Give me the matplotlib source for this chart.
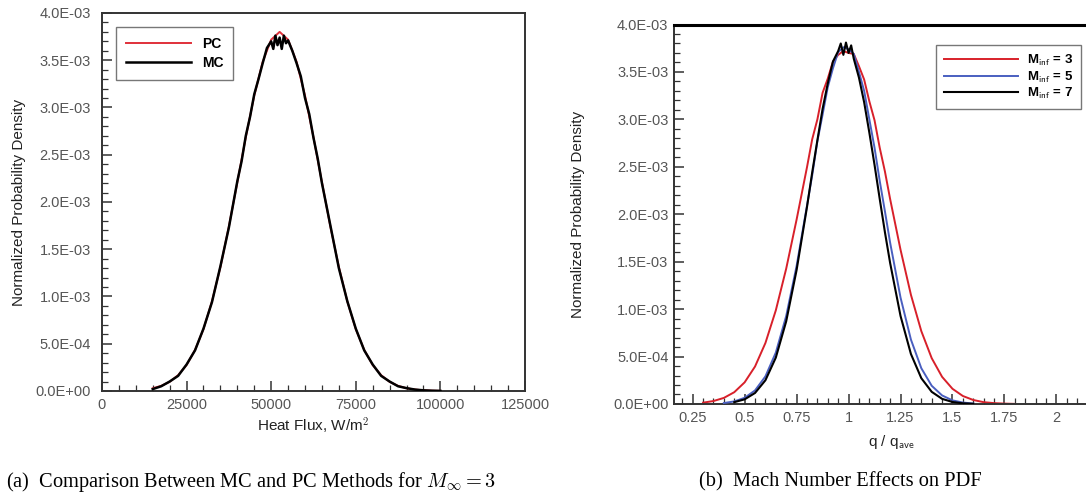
import matplotlib
matplotlib.use("Agg")
import matplotlib.pyplot as plt
from matplotlib.ticker import MultipleLocator, FuncFormatter

plt.rcParams["font.family"] = ["Liberation Sans", "DejaVu Sans"]
plt.rcParams["mathtext.fontset"] = "cm"

# values, density in units of 1e-3
SCALE = 1e-3

# (a) heat flux PDF, PC vs MC, M = 3
pc_x = [15000, 17500, 20000, 22500, 25000, 27500, 30000, 32500, 35000, 37500,
        40000, 42500, 45000, 47500, 50000, 52500, 55000, 57500, 60000, 62500,
        65000, 67500, 70000, 72500, 75000, 77500, 80000, 82500, 85000, 87500,
        90000, 92500, 95000, 97500, 100000]
pc_y = [0.029, 0.054, 0.097, 0.167, 0.275, 0.434, 0.655, 0.948, 1.312, 1.740,
        2.209, 2.685, 3.126, 3.484, 3.718, 3.800, 3.718, 3.484, 3.126, 2.685,
        2.209, 1.740, 1.312, 0.948, 0.655, 0.434, 0.275, 0.167, 0.097, 0.054,
        0.029, 0.015, 0.007, 0.003, 0.001]

mc_x = [15000, 17500, 20000, 22500, 25000, 27500, 30000, 32500, 35000, 37500,
        40000, 41250, 42500, 43750, 45000, 46250, 47500, 48750, 50000, 50625,
        51250, 51875, 52500, 53125, 53750, 54375, 55000, 56250, 57500, 58750,
        60000, 61250, 62500, 63750, 65000, 67500, 70000, 72500, 75000, 77500,
        80000, 82500, 85000, 87500, 90000, 92500, 95000, 97500, 100000]
mc_y = [0.020, 0.050, 0.100, 0.160, 0.280, 0.430, 0.660, 0.940, 1.320, 1.730,
        2.220, 2.430, 2.700, 2.900, 3.140, 3.300, 3.470, 3.630, 3.700, 3.620,
        3.760, 3.660, 3.740, 3.620, 3.760, 3.680, 3.710, 3.600, 3.470, 3.330,
        3.100, 2.930, 2.680, 2.460, 2.200, 1.750, 1.300, 0.950, 0.660, 0.430,
        0.280, 0.160, 0.100, 0.050, 0.030, 0.015, 0.007, 0.003, 0.001]

# (b) q / q_ave PDF for three Mach numbers
m3_x = [0.30, 0.35, 0.40, 0.45, 0.50, 0.55, 0.60, 0.65, 0.70, 0.75,
        0.800, 0.825, 0.850, 0.875, 0.900, 0.925, 0.950, 0.975, 1.000, 1.025,
        1.050, 1.075, 1.100, 1.125, 1.150, 1.175, 1.200,
        1.25, 1.30, 1.35, 1.40, 1.45, 1.50, 1.55, 1.60, 1.65, 1.70, 1.75, 1.80]
m3_y = [0.014, 0.031, 0.064, 0.124, 0.228, 0.395, 0.643, 0.987, 1.427, 1.944,
        2.496, 2.790, 3.000, 3.280, 3.430, 3.610, 3.680, 3.720, 3.700, 3.690,
        3.560, 3.420, 3.190, 2.990, 2.700, 2.450, 2.160,
        1.626, 1.151, 0.768, 0.483, 0.286, 0.160, 0.084, 0.042, 0.019, 0.009, 0.004, 0.001]

m5_x = [0.40, 0.45, 0.50, 0.55, 0.60, 0.65, 0.70, 0.75,
        0.800, 0.825, 0.850, 0.875, 0.900, 0.925, 0.950, 0.975, 1.000, 1.025,
        1.050, 1.075, 1.100, 1.125, 1.150, 1.175, 1.200,
        1.25, 1.30, 1.35, 1.40, 1.45, 1.50, 1.55, 1.60]
m5_y = [0.010, 0.027, 0.065, 0.143, 0.291, 0.542, 0.928, 1.455,
        2.091, 2.410, 2.770, 3.050, 3.340, 3.540, 3.710, 3.760, 3.740, 3.690,
        3.500, 3.300, 3.000, 2.700, 2.350, 2.030, 1.700,
        1.122, 0.679, 0.377, 0.192, 0.090, 0.038, 0.015, 0.005]

m7_x = [0.45, 0.50, 0.55, 0.60, 0.65, 0.70, 0.75,
        0.800, 0.825, 0.850, 0.875, 0.900, 0.925, 0.950, 0.9625, 0.975, 0.9875,
        1.000, 1.0125, 1.025, 1.050, 1.075, 1.100, 1.125, 1.150, 1.175, 1.200,
        1.25, 1.30, 1.35, 1.40, 1.45, 1.50, 1.55, 1.60]
m7_y = [0.019, 0.049, 0.116, 0.250, 0.489, 0.872, 1.412,
        2.077, 2.440, 2.780, 3.110, 3.380, 3.610, 3.720, 3.800, 3.680, 3.810,
        3.700, 3.780, 3.640, 3.440, 3.180, 2.860, 2.520, 2.160, 1.810, 1.486,
        0.928, 0.527, 0.272, 0.128, 0.054, 0.021, 0.007, 0.002]

xa_ticks = [0, 25000, 50000, 75000, 100000, 125000]
xb_ticks = [0.25, 0.5, 0.75, 1.0, 1.25, 1.5, 1.75, 2.0]
xb_labels = ["0.25", "0.5", "0.75", "1", "1.25", "1.5", "1.75", "2"]

fig = plt.figure(figsize=(10.86, 4.98), dpi=100)
ax1 = fig.add_axes([0.0939, 0.2149, 0.3895, 0.759])
ax2 = fig.add_axes([0.6206, 0.1888, 0.4000, 0.762])

sci = FuncFormatter(lambda v, p: f"{v:.1E}")
tick_col = "#555555"

for ax in (ax1, ax2):
    ax.set_ylim(0, 4e-3)
    ax.yaxis.set_major_locator(MultipleLocator(5e-4))
    ax.yaxis.set_minor_locator(MultipleLocator(1e-4))
    ax.yaxis.set_major_formatter(sci)
    ax.tick_params(which="both", direction="in", colors="#333333",
                   labelcolor=tick_col, labelsize=10.5)
    ax.tick_params(which="major", length=7, width=1.1)
    ax.tick_params(which="minor", length=4, width=0.9)
    for s in ax.spines.values():
        s.set_linewidth(1.4)
        s.set_color("#333333")
    ax.set_ylabel("Normalized Probability Density", fontsize=11, color="#222222")

# panel (a)
ax1.plot(pc_x, [v * SCALE for v in pc_y], color="#e0303a", lw=1.4, label="PC", zorder=2)
ax1.plot(mc_x, [v * SCALE for v in mc_y], color="black", lw=1.8, label="MC", zorder=3)
ax1.set_xlim(0, 125000)
ax1.set_xticks(xa_ticks)
ax1.set_xticklabels([str(t) for t in xa_ticks])
ax1.xaxis.set_minor_locator(MultipleLocator(5000))
ax1.tick_params(axis="y", pad=8)
ax1.tick_params(axis="x", pad=5)
ax1.set_xlabel(r"Heat Flux, W/m$^{\mathsf{2}}$", fontsize=11, color="#222222", labelpad=3)
ax1.yaxis.set_label_coords(-0.18, 0.5)
leg1 = ax1.legend(loc="upper left", bbox_to_anchor=(0.033, 0.962), borderaxespad=0,
                  handlelength=4.7, fancybox=False, framealpha=1, edgecolor="#777777",
                  prop={"weight": "bold", "size": 10}, borderpad=0.7,
                  labelspacing=0.35, handletextpad=0.8)
leg1.get_frame().set_linewidth(1.0)

# panel (b)
ax2.plot(m3_x, [v * SCALE for v in m3_y], color="#d8202a", lw=1.4,
         label=r"M$_{\mathsf{inf}}$ = 3", zorder=2)
ax2.plot(m5_x, [v * SCALE for v in m5_y], color="#4a5fc0", lw=1.4,
         label=r"M$_{\mathsf{inf}}$ = 5", zorder=3)
ax2.plot(m7_x, [v * SCALE for v in m7_y], color="black", lw=1.5,
         label=r"M$_{\mathsf{inf}}$ = 7", zorder=4)
ax2.set_xlim(0.16, 2.25)
ax2.set_xticks(xb_ticks)
ax2.set_xticklabels(xb_labels)
ax2.xaxis.set_minor_locator(MultipleLocator(0.05))
ax2.tick_params(axis="y", pad=4)
ax2.tick_params(axis="x", pad=5)
ax2.spines["top"].set_linewidth(2.2)
ax2.spines["top"].set_color("black")
ax2.set_xlabel(r"q / q$_{\mathsf{ave}}$", fontsize=11, color="#222222", labelpad=6)
ax2.yaxis.set_label_coords(-0.205, 0.5)
leg2 = ax2.legend(loc="upper left", bbox_to_anchor=(0.603, 0.946), borderaxespad=0,
                  handlelength=5.6, fancybox=False, framealpha=1, edgecolor="#777777",
                  prop={"weight": "bold", "size": 9.5}, borderpad=0.6,
                  handletextpad=0.7, labelspacing=0.1)
leg2.get_frame().set_linewidth(1.0)

fig.text(0.231, 0.032, r"(a)  Comparison Between MC and PC Methods for $M_\infty = 3$",
         ha="center", va="center", fontsize=14.7, family="Liberation Serif")
fig.text(0.774, 0.032, "(b)  Mach Number Effects on PDF",
         ha="center", va="center", fontsize=14.7, family="Liberation Serif")

fig.savefig("out.png", dpi=100)
